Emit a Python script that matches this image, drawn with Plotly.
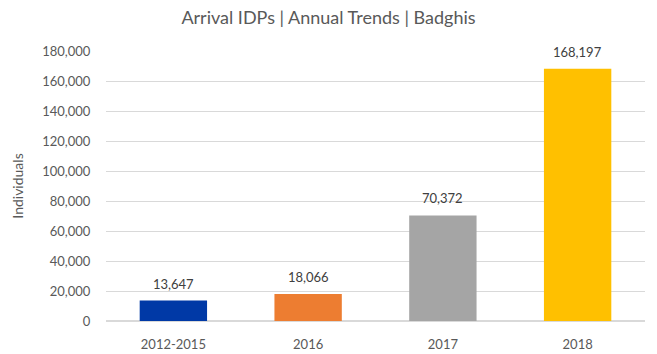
import plotly.graph_objects as go

periods = ["2012-2015", "2016", "2017", "2018"]
arrivals = [13647, 18066, 70372, 168197]
bar_colors = ["#0039A6", "#ED7D31", "#A5A5A5", "#FFC000"]
y_ticks = list(range(0, 180001, 20000))

fig = go.Figure(
    go.Bar(
        x=periods,
        y=arrivals,
        marker=dict(color=bar_colors, line=dict(width=0)),
        width=0.5,
        cliponaxis=False,
    )
)

# value labels above each bar (category index positions)
for i, v in enumerate(arrivals):
    fig.add_annotation(
        x=i, y=v, text=f"{v:,}", showarrow=False,
        xanchor="center", yanchor="bottom", yshift=7,
        font=dict(family="Lato", size=13, color="#404040"),
    )

fig.update_layout(
    width=657,
    height=354,
    margin=dict(l=106, r=12, t=51, b=33),
    paper_bgcolor="white",
    plot_bgcolor="white",
    showlegend=False,
    font=dict(family="Lato", color="#595959"),
    title=dict(
        text="Arrival IDPs | Annual Trends | Badghis",
        x=0.5,
        xanchor="center",
        y=0.95,
        yanchor="middle",
        font=dict(family="Lato", size=18, color="#595959"),
    ),
)

fig.update_xaxes(
    type="category",
    range=[-0.5, len(periods) - 0.5],
    showline=False,
    automargin=False,
    ticks="outside",
    ticklen=11,
    tickcolor="rgba(0,0,0,0)",
    tickfont=dict(family="Lato", size=13, color="#595959"),
)
fig.update_yaxes(
    range=[0, 180000],
    automargin=False,
    tickvals=y_ticks,
    ticktext=[f"{v:,}" for v in y_ticks],
    tickfont=dict(family="Lato", size=13, color="#595959"),
    showgrid=True,
    gridcolor="#D9D9D9",
    gridwidth=1,
    zeroline=True,
    zerolinecolor="#D9D9D9",
    ticks="outside",
    ticklen=12,
    tickcolor="rgba(0,0,0,0)",
    title=dict(text="Individuals", font=dict(family="Lato", size=14, color="#595959"), standoff=15),
)

fig.write_html("out.html")
